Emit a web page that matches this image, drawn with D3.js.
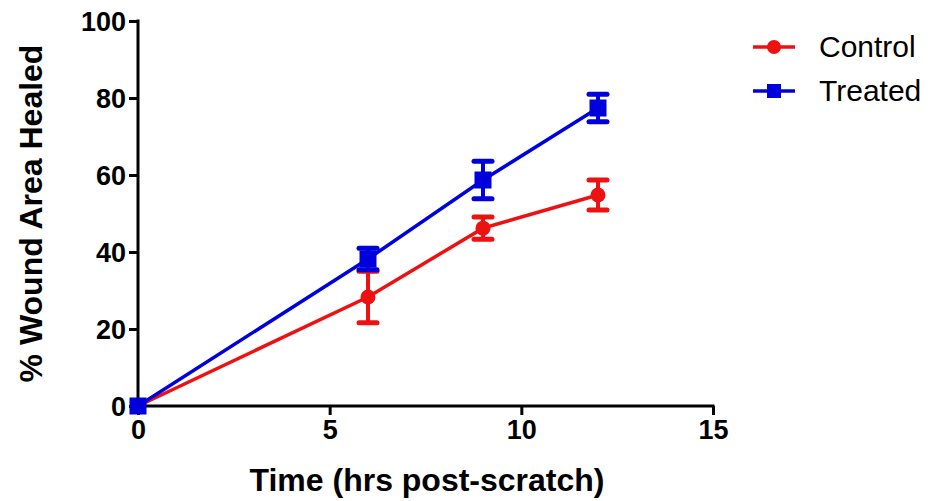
<!DOCTYPE html>
<html><head><meta charset="utf-8">
<script src="https://cdn.jsdelivr.net/npm/d3@7"></script>
<style>body{margin:0;background:#fff}svg{display:block}</style>
</head><body>
<svg id="c" width="928" height="501"></svg>
<script>
const times = [0, 6, 9, 12];
const controlMean = [0, 28.3, 46.2, 54.8];
const controlErr = [0, 6.7, 2.9, 3.9];
const treatedMean = [0, 38.2, 58.7, 77.4];
const treatedErr = [0, 2.8, 4.9, 3.6];
const xTicks = [0, 5, 10, 15];
const yTicks = [0, 20, 40, 60, 80, 100];
const seriesNames = ["Control", "Treated"];
const seriesColors = ["#ee1111", "#0000dd"];

const svg = d3.select("#c");
const x = d3.scaleLinear().domain([0, 15]).range([138, 713]);
const y = d3.scaleLinear().domain([0, 100]).range([406, 21]);
const font = "'Liberation Sans', Arial, sans-serif";

const xa = svg.append("g").attr("transform", `translate(0,${y(0)})`)
  .call(d3.axisBottom(x).tickValues(xTicks).tickSize(9).tickPadding(5).tickFormat(d3.format("d")));
const ya = svg.append("g").attr("transform", `translate(${x(0)},0)`)
  .call(d3.axisLeft(y).tickValues(yTicks).tickSize(9).tickPadding(3).tickFormat(d3.format("d")));
[xa, ya].forEach(a => {
  a.selectAll(".tick line").attr("stroke", "#000").attr("stroke-width", 3);
  a.selectAll("text").attr("font-family", font).attr("font-size", 27).attr("font-weight", "bold").attr("fill", "#000");
  a.select(".domain").remove();
});
ya.selectAll("text").attr("dy", "0.36em");
svg.append("line").attr("x1", x(0)).attr("x2", x(15)+1.5).attr("y1", y(0)).attr("y2", y(0)).attr("stroke", "#000").attr("stroke-width", 3);
svg.append("line").attr("x1", x(0)).attr("x2", x(0)).attr("y1", y(0)+1.5).attr("y2", y(100)-1.5).attr("stroke", "#000").attr("stroke-width", 3);

svg.append("text").attr("x", 427).attr("y", 491).attr("text-anchor", "middle")
  .attr("font-family", font).attr("font-size", 32).attr("font-weight", "bold").text("Time (hrs post-scratch)");
svg.append("text").attr("transform", `translate(42,${(y(0)+y(100))/2}) rotate(-90)`).attr("text-anchor", "middle")
  .attr("font-family", font).attr("font-size", 32).attr("font-weight", "bold").text("% Wound Area Healed");

const series = [
  {name: seriesNames[0], mean: controlMean, err: controlErr, color: seriesColors[0], shape: "circle"},
  {name: seriesNames[1], mean: treatedMean, err: treatedErr, color: seriesColors[1], shape: "square"}
];
const line = d3.line().x((d) => x(d[0])).y((d) => y(d[1]));

function marker(g, shape, color, size) {
  if (shape === "circle") g.append("circle").attr("r", size / 2).attr("fill", color);
  else g.append("rect").attr("x", -size/2).attr("y", -size/2).attr("width", size).attr("height", size).attr("fill", color);
}

series.forEach(s => {
  const pts = times.map((t, i) => [t, s.mean[i], s.err[i]]);
  const g = svg.append("g");
  g.append("path").datum(pts).attr("d", line).attr("fill", "none").attr("stroke", s.color).attr("stroke-width", 3.5);
  pts.forEach(p => {
    if (p[2] > 0) {
      const eg = g.append("g").attr("stroke", s.color).attr("stroke-width", 4).attr("stroke-linecap", "round");
      eg.append("line").attr("x1", x(p[0])).attr("x2", x(p[0])).attr("y1", y(p[1]-p[2])).attr("y2", y(p[1]+p[2]));
      [p[1]-p[2], p[1]+p[2]].forEach(v => eg.append("line").attr("x1", x(p[0])-9).attr("x2", x(p[0])+9).attr("y1", y(v)).attr("y2", y(v)).attr("stroke-width", 5));
    }
    marker(g.append("g").attr("transform", `translate(${x(p[0])},${y(p[1])})`), s.shape, s.color, s.shape === "circle" ? 15 : 17);
  });
});

series.forEach((s, i) => {
  const ly = 47 + i * 44;
  const g = svg.append("g");
  g.append("line").attr("x1", 753).attr("x2", 795).attr("y1", ly).attr("y2", ly).attr("stroke", s.color).attr("stroke-width", 3.5);
  marker(g.append("g").attr("transform", `translate(774,${ly})`), s.shape, s.color, 14);
  g.append("text").attr("x", 819).attr("y", ly + 10).attr("font-family", font).attr("font-size", 30).attr("fill", "#000").text(s.name);
});
</script>
</body></html>
